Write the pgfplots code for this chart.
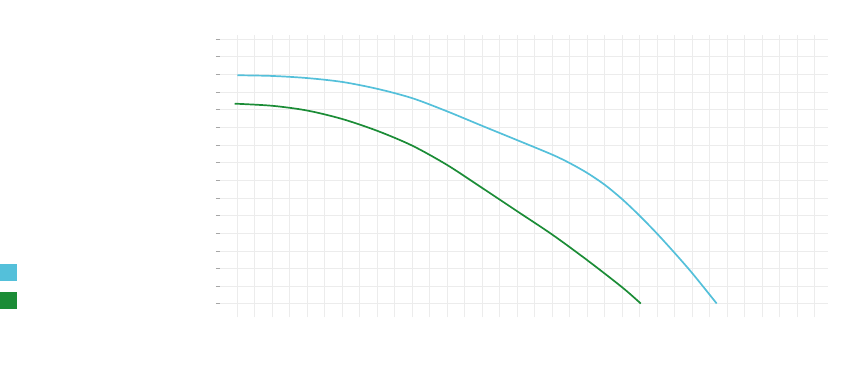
\documentclass[border=0pt]{standalone}
\usepackage{pgfplots}
\pgfplotsset{compat=1.18}
\definecolor{cblue}{RGB}{84,192,218}
\definecolor{cgreen}{RGB}{27,140,54}
\definecolor{cgrid}{RGB}{236,236,236}
\begin{document}
\begin{tikzpicture}
\path[use as bounding box] (0pt,0pt) rectangle (841pt,367pt);
\begin{axis}[
  at={(216pt,49.7pt)}, anchor=south west,
  scale only axis, width=612pt, height=282.3pt,
  xmin=-1.22, xmax=33.75, ymin=-0.76, ymax=15.23,
  xtick={0,1,...,33}, ytick={0,1,...,15},
  grid=major, major grid style={cgrid, line width=0.8pt},
  axis line style={draw=none},
  xtick style={draw=none},
  ytick style={gray!70, line width=0.8pt},
  tick align=inside, major tick length=4pt,
  ytick pos=left, xtick pos=bottom,
  xticklabel style={text=white}, yticklabel style={text=white},
  legend style={at={(-0.353,0.1888)}, anchor=north west, draw=none, fill=none,
    inner sep=0pt, outer sep=0pt, text=white, row sep=11.6pt,
    nodes={inner sep=0pt}},
  legend image code/.code={\fill[#1,draw=none] (0pt,-8.35pt) rectangle (16.7pt,8.35pt);},
  legend cell align=left,
]
\addplot[cblue, line width=1.7pt, smooth, tension=0.5] coordinates {
 (0,12.95) (2,12.91) (4,12.79) (6,12.57) (8,12.18) (10,11.65) (12,10.90)
 (14,10.08) (16,9.27) (18,8.45) (19,7.97) (20,7.41) (21,6.74) (22,5.92)
 (23,4.98) (24,3.96) (25,2.87) (26,1.73) (27.39,0.02)
};
\addlegendentry{Series 1}
\addplot[cgreen, line width=1.7pt, smooth, tension=0.5] coordinates {
 (-0.15,11.34) (2,11.22) (4,10.95) (6,10.47) (8,9.80) (10,8.96) (12,7.86)
 (14,6.56) (16,5.24) (18,3.92) (20,2.47) (22,0.93) (23.05,0.02)
};
\addlegendentry{Series 2}
\end{axis}
\end{tikzpicture}
\end{document}
